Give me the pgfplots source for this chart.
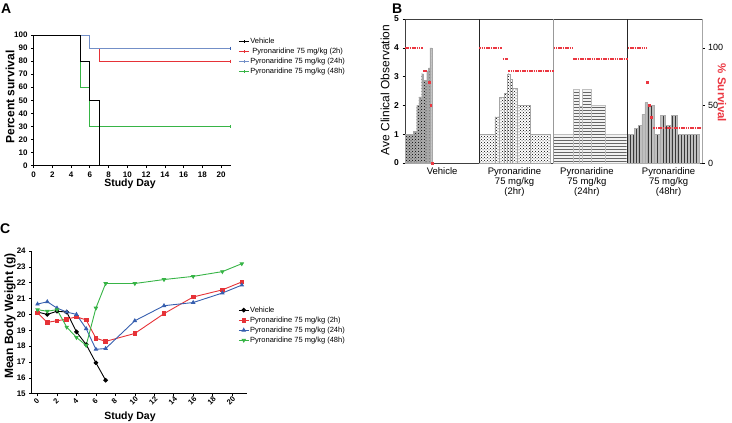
\documentclass[border=0pt]{standalone}
\usepackage{pgfplots}
\pgfplotsset{compat=1.18}
\usetikzlibrary{patterns}
\usepackage{fontspec}
\setmainfont{Liberation Sans}
\definecolor{cred}{RGB}{230,50,55}
\definecolor{cblue}{RGB}{55,95,175}
\definecolor{cgreen}{RGB}{55,180,70}
\definecolor{sred}{RGB}{235,55,65}
\begin{document}
\begin{tikzpicture}
\path[use as bounding box] (0,0) rectangle (732pt,-423pt);
\pgfplotsset{
  /pgf/number format/assume math mode=true,
  every axis/.append style={scale only axis, tick align=outside, major tick length=2.5pt,
    tick style={black, line width=0.6pt}, axis line style={black, line width=0.7pt},
    tick label style={font=\bfseries\fontsize{8}{9}\selectfont}},
}
% ---------------- Panel A ----------------
\begin{axis}[at={(33.5pt,-165.5pt)}, anchor=south west, width=197pt, height=130.5pt,
  xmin=0, xmax=21, ymin=0, ymax=100, clip=false,
  axis x line*=bottom, axis y line*=left,
  xtick={0,2,...,20}, ytick={0,10,...,100},
  legend style={at={(axis description cs:1.04,0.99)}, anchor=north west, draw=none, fill=none,
     font=\fontsize{7.5}{8}\selectfont, inner sep=0pt, row sep=0.5pt,
     nodes={inner sep=1pt, text height=6pt, text depth=1.5pt}},
  legend cell align=left,
  legend image code/.code={\draw[#1] (0pt,0pt)--(10pt,0pt); \draw[#1] (5pt,-1.5pt)--(5pt,1.5pt);},
]
\addplot[black, const plot, line width=0.8pt] coordinates {(0,100)(5,80)(6,50)(7,0)};
\addlegendentry{Vehicle}
\addplot[cred, const plot, line width=0.8pt] coordinates {(0,100)(6,90)(7,80)(21,80)};
\addlegendentry{\ Pyronaridine 75 mg/kg (2h)}
\addplot[cblue!70, const plot, line width=0.8pt] coordinates {(0,100)(6,90)(21,90)};
\addlegendentry{Pyronaridine 75 mg/kg (24h)}
\addplot[cgreen, const plot, line width=0.8pt] coordinates {(0,100)(5,60)(6,30)(21,30)};
\addlegendentry{Pyronaridine 75 mg/kg (48h)}
\addplot[forget plot, black, const plot, line width=0.8pt] coordinates {(0,100)(5,80)(6,50)(7,0)};
\addplot[forget plot, only marks, mark=|, mark size=1.5pt, cred] coordinates {(21,80)};
\addplot[forget plot, only marks, mark=|, mark size=1.5pt, cblue] coordinates {(21,90)};
\addplot[forget plot, only marks, mark=|, mark size=1.5pt, cgreen] coordinates {(21,30)};
\end{axis}
\node[font=\bfseries\fontsize{12}{14}\selectfont, rotate=90] at (10pt,-97pt) {Percent survival};
\node[font=\bfseries\fontsize{10.5}{12}\selectfont] at (130pt,-184pt) {Study Day};
\node[font=\bfseries\fontsize{14}{16}\selectfont, anchor=base west, inner sep=0pt] at (1pt,-13pt) {A};
% ---------------- Panel B ----------------
\begin{axis}[at={(405pt,-163pt)}, anchor=south west, width=297pt, height=144pt,
  xmin=0, xmax=80, ymin=0, ymax=5,
  axis line style={gray!50!black, line width=0.7pt},
  ytick={0,1,...,5}, ytick pos=left,
  xtick={10,29.5,49,71},
  xticklabels={Vehicle,{Pyronaridine\\75 mg/kg\\(2hr)},{Pyronaridine\\75 mg/kg\\(24hr)},{Pyronaridine\\75 mg/kg\\(48hr)}},
  x tick style={draw=none},
  xticklabel style={align=center, font=\fontsize{9.5}{10}\selectfont, yshift=1pt},
  tick label style={font=\bfseries\fontsize{8.5}{9}\selectfont},
]
\addplot[ybar interval, fill=gray!65, draw=gray!70, line width=0.2pt,
  postaction={pattern=crosshatch dots, pattern color=black}]
  coordinates {(0,1.0)(2.24,1.1)(3.14,2.0)(3.77,2.3)(4.49,3.1)(4.94,2.88)(5.84,3.2)(6.28,3.3)(6.73,4.0)(7.19,0)};
\addplot[ybar interval, fill=white, draw=gray!70, line width=0.2pt,
  postaction={pattern=crosshatch dots, pattern color=black}]
  coordinates {(20,1.0)(24.2,1.6)(25.3,2.28)(26.7,2.42)(27.6,3.1)(28.2,2.9)(28.9,2.6)(30.2,2.0)(33.8,1.0)(39.1,0)};
\addplot[ybar interval, fill=gray!10, draw=gray!50, line width=0.2pt,
  postaction={pattern=horizontal lines, pattern color=gray!80!black}]
  coordinates {(40,1.0)(45.4,2.55)(46.96,1.98)(47.8,2.55)(50.2,2.0)(53.9,1.0)(59.7,0)};
\addplot[ybar interval, fill=gray!50, draw=gray!65, line width=0.3pt,
  postaction={pattern=vertical lines, pattern color=gray!45!black}]
  coordinates {(60,1.0)(61.7,1.2)(62.9,1.3)(63.8,1.7)(64.6,2.1)(65.3,2.0)(67.1,1.0)(68.7,1.65)(70.0,1.3)(71.8,1.65)(73.4,1.0)(79.3,0)};
\draw[black!85, line width=0.7pt] (axis cs:20,0) -- (axis cs:20,5);
\draw[gray!80, line width=0.9pt] (axis cs:40,0) -- (axis cs:40,5);
\draw[black!85, line width=0.7pt] (axis cs:60,0) -- (axis cs:60,5);
\end{axis}
\begin{axis}[at={(405pt,-163pt)}, anchor=south west, width=297pt, height=144pt,
  xmin=0, xmax=80, ymin=0, ymax=125,
  axis x line=none, axis y line*=right,
  axis line style={gray!70, line width=0.8pt},
  ytick={0,50,100},
  tick label style={font=\fontsize{9}{10}\selectfont},
]
\addplot[sred, line width=2pt, dash pattern=on 1.6pt off 0.7pt, unbounded coords=jump]
  coordinates {(0,100)(4.9,100)(4.9,nan)(4.9,80)(6.0,80)
               (6.0,nan)(20,100)(26.1,100)(26.1,nan)(26.3,90)(27.6,90)(27.6,nan)(27.8,80)(40,80)
               (40,nan)(40,100)(45.3,100)(45.3,nan)(45.3,90)(60,90)
               (60,nan)(60,100)(65.1,100)(65.1,nan)(66.9,30)(80,30)};
\addplot[sred, only marks, mark=square*, mark size=0.8pt]
  coordinates {(6.5,70)(6.9,50)(7.35,0)(65.3,70)(65.8,50)(66.3,40)};
\end{axis}
\node[font=\fontsize{12}{14}\selectfont, rotate=90] at (385pt,-90pt) {Ave Clinical Observation};
\node[font=\bfseries\fontsize{11.5}{13}\selectfont, rotate=-90, text=sred] at (722pt,-93pt) {\% Survival};
\node[font=\bfseries\fontsize{14}{16}\selectfont, anchor=base west, inner sep=0pt] at (392pt,-13pt) {B};
% ---------------- Panel C ----------------
\begin{axis}[at={(31.7pt,-393.7pt)}, anchor=south west, width=215pt, height=142.7pt,
  xmin=-0.6, xmax=21.5, ymin=15, ymax=24, clip=false,
  axis x line*=bottom, axis y line*=left,
  xtick={0,2,...,20}, ytick={15,16,...,24},
  xticklabel style={yshift=-4.5pt, xshift=-1pt, rotate=45, anchor=center, inner sep=0.3pt, font=\bfseries\fontsize{7.5}{8}\selectfont},
  every axis plot/.append style={line width=0.9pt, mark size=1.8pt},
  legend style={at={(axis description cs:0.96,0.62)}, anchor=north west, draw=none, fill=none,
     font=\fontsize{7.5}{8}\selectfont, inner sep=0pt, row sep=0.5pt,
     nodes={inner sep=1pt, text height=6pt, text depth=1.5pt}},
  legend cell align=left,
  legend image code/.code={\draw[mark repeat=2, mark phase=2, #1] plot coordinates {(0pt,0pt)(5pt,0pt)(10pt,0pt)};},
]
\addplot[black, mark=*] coordinates {(0,20.15)(1,20.0)(2,20.2)(3,20.15)(4,18.9)(5,18.1)(6,16.95)(7,15.85)};
\addlegendentry{Vehicle}
\addplot[cred, mark=square*] coordinates {(0,20.1)(1,19.5)(2,19.6)(3,19.7)(4,19.85)(5,19.65)(6,18.5)(7,18.3)(10,18.8)(13,20.05)(16,21.1)(19,21.55)(21,22.05)};
\addlegendentry{Pyronaridine 75 mg/kg (2h)}
\addplot[cblue, mark=triangle*] coordinates {(0,20.65)(1,20.8)(2,20.4)(3,20.15)(4,20.0)(5,19.1)(6,17.8)(7,17.85)(10,19.6)(13,20.55)(16,20.75)(19,21.35)(21,21.85)};
\addlegendentry{Pyronaridine 75 mg/kg (24h)}
\addplot[cgreen, mark=triangle*, mark options={rotate=180}] coordinates {(0,20.3)(1,20.2)(2,20.3)(3,19.2)(4,18.55)(5,18.05)(6,20.4)(7,21.95)(10,21.95)(13,22.2)(16,22.4)(19,22.7)(21,23.2)};
\addlegendentry{Pyronaridine 75 mg/kg (48h)}
\end{axis}
\node[font=\bfseries\fontsize{12}{14}\selectfont, rotate=90] at (10pt,-316pt) {Mean Body Weight (g)};
\node[font=\bfseries\fontsize{10.5}{12}\selectfont] at (130pt,-417pt) {Study Day};
\node[font=\bfseries\fontsize{14}{16}\selectfont, anchor=base west, inner sep=0pt] at (0pt,-233pt) {C};
\end{tikzpicture}
\end{document}
